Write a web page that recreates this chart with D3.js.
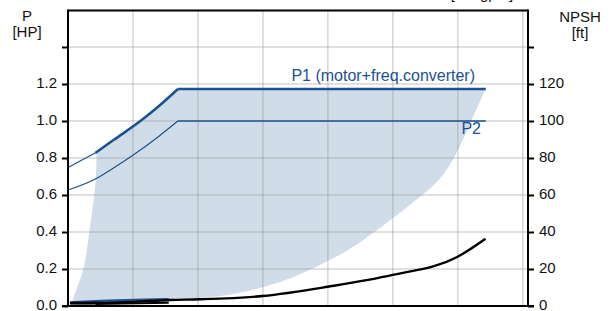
<!DOCTYPE html>
<html>
<head>
<meta charset="utf-8">
<script src="https://cdn.jsdelivr.net/npm/d3@7"></script>
<style>
  body { margin: 0; background: #fff; }
  text { font-family: "Liberation Sans", Arial, sans-serif; }
</style>
</head>
<body>
<svg id="chart" width="611" height="311"></svg>
<script>
// flow axis has gridlines but no labels
const flowGrid = [5, 10, 15, 20, 25, 30, 35]
const powerTicks = [0, 0.2, 0.4, 0.6, 0.8, 1.0, 1.2, 1.4]
const npshTicks = [0, 20, 40, 60, 80, 100, 120, 140]

// P1 (motor+freq.converter), thin before index 2, kink at index 6
const p1Flow = [0, 1, 2.1, 3.5, 5.67, 7, 8.46, 32.15]
const p1Power = [0.748, 0.786, 0.827, 0.897, 1.005, 1.081, 1.173, 1.173]

// P2, kink at index 5
const p2Flow = [0, 1.95, 3.5, 5.02, 7, 8.46, 32.15]
const p2Power = [0.627, 0.681, 0.746, 0.816, 0.918, 1.0, 1.0]

// min speed curves
const minFlow = [0.15, 2.1, 7.75]
const minPower = [0.02, 0.027, 0.038]
const minNpsh = [0.5, 1.1, 1.8]

// NPSH at max speed
const npshFlow = [0.15, 4.77, 7.85, 10.15, 14.98, 19.98, 24.98, 29.95, 32.13]
const npshFt = [1.6, 2.2, 3.24, 3.62, 5.4, 10.4, 16.8, 26.5, 36.4]

// operating area, left edge bottom->top, right edge top->bottom
const areaLeft = [[0.31, 0.022], [0.54, 0.07], [1.18, 0.2], [1.64, 0.4], [2.02, 0.6], [2.13, 0.681], [2.21, 0.827]]
const areaRight = [[32.15, 1.173], [31.23, 1.032], [30.38, 0.897], [29.38, 0.762], [28.38, 0.67], [26.31, 0.546],
  [24.0, 0.422], [21.54, 0.303], [19.38, 0.222], [16.31, 0.13], [12.69, 0.065], [10.15, 0.043], [7.85, 0.035], [0.31, 0.022]]

const blue = '#1b5291'

const svg = d3.select('#chart')

const x = d3.scaleLinear().domain([0, 35.4]).range([68, 528])
const yP = d3.scaleLinear().domain([0, 1.6]).range([306, 10])
const yN = d3.scaleLinear().domain([0, 160]).range([306, 10])

const zip = (a, b) => a.map((v, i) => [v, b[i]])

// shaded area: curved edges joined by the flat P1 top
const edge = d3.line().x(d => x(d[0])).y(d => yP(d[1])).curve(d3.curveCatmullRom.alpha(0.5))
const straight = d3.line().x(d => x(d[0])).y(d => yP(d[1]))
const topPts = zip(p1Flow, p1Power).filter(d => d[0] > 2.21)
svg.append('path')
  .attr('d', edge(areaLeft) + straight(topPts).replace(/^M/, 'L') + edge(areaRight).replace(/^M/, 'L') + 'Z')
  .attr('fill', '#d0dce8')

// grid
const grid = svg.append('g').attr('class', 'grid')
grid.selectAll('line.v')
  .data(flowGrid)
  .enter()
  .append('line')
  .attr('x1', d => x(d)).attr('x2', d => x(d))
  .attr('y1', yP(1.6)).attr('y2', yP(0))
grid.selectAll('line.h')
  .data(powerTicks.filter(d => d > 0))
  .enter()
  .append('line')
  .attr('x1', x(0)).attr('x2', 528)
  .attr('y1', d => yP(d)).attr('y2', d => yP(d))
grid.selectAll('line')
  .attr('stroke', 'rgba(150,150,150,0.4)')
  .attr('stroke-width', 1.5)

// curves
const smooth = (sx, sy) => d3.line().x(d => sx(d[0])).y(d => sy(d[1])).curve(d3.curveMonotoneX)
const lineP = smooth(x, yP)
const lineN = smooth(x, yN)

function drawLine(gen, pts, color, width) {
  svg.append('path')
    .attr('d', gen(pts))
    .attr('fill', 'none')
    .attr('stroke', color)
    .attr('stroke-width', width)
    .attr('stroke-linejoin', 'round')
}

const p1 = zip(p1Flow, p1Power)
drawLine(lineP, p1.slice(0, 3), blue, 1.2)
drawLine(lineP, p1.slice(2, 7), blue, 2.6)
drawLine(lineP, p1.slice(6), blue, 2.6)

const p2 = zip(p2Flow, p2Power)
drawLine(lineP, p2.slice(0, 6), blue, 1.2)
drawLine(lineP, p2.slice(5), blue, 1.6)

const minN = zip(minFlow, minNpsh)
drawLine(lineN, minN.slice(0, 2), '#777', 1.5)
drawLine(lineN, minN.slice(1), '#000', 2)
drawLine(lineP, zip(minFlow, minPower), blue, 2)
drawLine(lineN, zip(npshFlow, npshFt), '#000', 2.4)

// axes
const leftAxis = svg.append('g')
  .attr('transform', `translate(${x(0)},0)`)
  .call(d3.axisLeft(yP).tickValues(powerTicks).tickSize(6).tickPadding(5)
    .tickFormat(d => d <= 1.2 ? d.toFixed(1) : ''))
const rightAxis = svg.append('g')
  .attr('transform', 'translate(528,0)')
  .call(d3.axisRight(yN).tickValues(npshTicks).tickSize(6).tickPadding(5)
    .tickFormat(d => d <= 120 ? d : ''))
for (const ax of [leftAxis, rightAxis]) {
  ax.select('.domain').remove()
  ax.selectAll('line').attr('stroke', '#000').attr('stroke-width', 2)
  ax.selectAll('text')
    .attr('font-size', 15)
    .attr('font-family', '"Liberation Sans", Arial, sans-serif')
    .attr('fill', '#111')
    .attr('dy', '0.22em')
}

// frame
const frame = svg.append('g').attr('stroke', '#000').attr('stroke-width', 2)
frame.append('line').attr('x1', x(0)).attr('x2', 528).attr('y1', yP(1.6) + 0.5).attr('y2', yP(1.6) + 0.5)
frame.append('line').attr('x1', x(0)).attr('x2', x(0)).attr('y1', yP(1.6) - 0.5).attr('y2', yP(0))
frame.append('line').attr('x1', 528).attr('x2', 528).attr('y1', yP(1.6) - 0.5).attr('y2', yP(0))
frame.append('line').attr('x1', x(0) - 6).attr('x2', 534).attr('y1', yP(0)).attr('y2', yP(0))

// labels
const label = (tx, ty, s, anchor, size, color) => svg.append('text')
  .attr('x', tx).attr('y', ty)
  .attr('text-anchor', anchor)
  .attr('font-size', size)
  .attr('fill', color || '#111')
  .text(s)

label(27, 21, 'P', 'middle', 15)
label(27, 37, '[HP]', 'middle', 15)
label(580, 22, 'NPSH', 'middle', 15)
label(580, 38, '[ft]', 'middle', 15)
label(482, -1, '[US gpm]', 'middle', 15)
label(475, 81, 'P1 (motor+freq.converter)', 'end', 16, blue)
label(481, 134, 'P2', 'end', 16, blue)
</script>
</body>
</html>
